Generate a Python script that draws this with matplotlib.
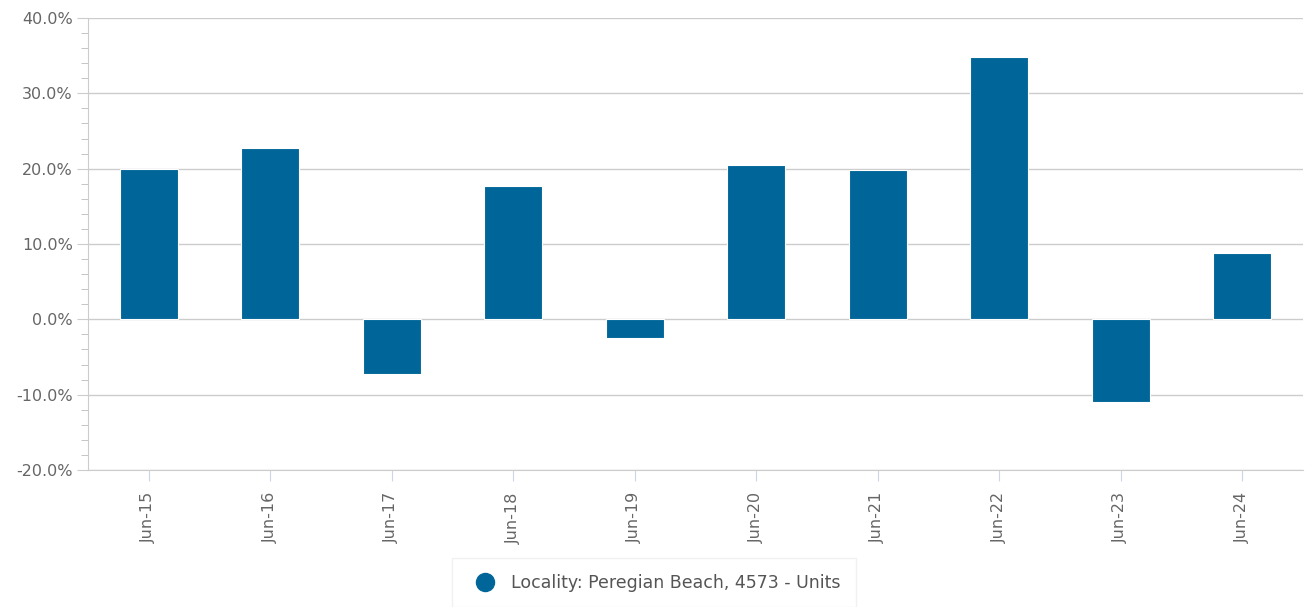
import matplotlib.pyplot as plt
from matplotlib.ticker import MultipleLocator, FuncFormatter
from matplotlib.lines import Line2D

# --- Datos ---
periodos = ["Jun-15", "Jun-16", "Jun-17", "Jun-18", "Jun-19",
            "Jun-20", "Jun-21", "Jun-22", "Jun-23", "Jun-24"]
cambio_pct = [20.0, 22.8, -7.2, 17.7, -2.5, 20.5, 19.8, 34.8, -11.0, 8.8]
serie = "Locality: Peregian Beach, 4573 - Units"

color_barra = "#006699"
gris_texto = "#666666"
gris_linea = "#cccccc"

fig = plt.figure(figsize=(13.06, 6.07), dpi=100)
ax = fig.add_axes([88 / 1306, 1 - 470 / 607, 1215 / 1306, 452 / 607])

x = list(range(len(periodos)))
ax.bar(x, cambio_pct, width=0.48, color=color_barra, edgecolor="white",
       linewidth=0.8, zorder=3)

ax.set_xlim(-0.5, len(periodos) - 0.5)
ax.set_ylim(-20, 40)
ax.yaxis.set_major_locator(MultipleLocator(10))
ax.yaxis.set_minor_locator(MultipleLocator(2))
ax.yaxis.set_major_formatter(FuncFormatter(lambda v, p: f"{v:.1f}%"))
ax.grid(axis="y", which="major", color=gris_linea, linewidth=1, zorder=0)

for s in ["top", "right"]:
    ax.spines[s].set_visible(False)
ax.spines["left"].set_color(gris_linea)
ax.spines["bottom"].set_color(gris_linea)

ax.tick_params(axis="y", which="major", length=8, color=gris_linea,
               labelsize=11.5, labelcolor=gris_texto, pad=3)
ax.tick_params(axis="y", which="minor", length=5, color="#bbbbbb")

ax.set_xticks(x)
ax.set_xticklabels(periodos, rotation=90)
ax.tick_params(axis="x", length=8, color="#ccd6eb", labelsize=11.5,
               labelcolor=gris_texto, pad=8)

# Leyenda
marcador = Line2D([0], [0], marker="o", linestyle="", markersize=13,
                  markerfacecolor=color_barra, markeredgecolor=color_barra)
fig.legend([marcador], [serie], loc="upper center",
           bbox_to_anchor=(654 / 1306, 1 - 558 / 607), frameon=True,
           fancybox=False, edgecolor="#eeeeee", fontsize=12.5,
           labelcolor="#555555", handletextpad=0.5, borderpad=0.9,
           borderaxespad=0)

fig.savefig("out.png", dpi=100)
